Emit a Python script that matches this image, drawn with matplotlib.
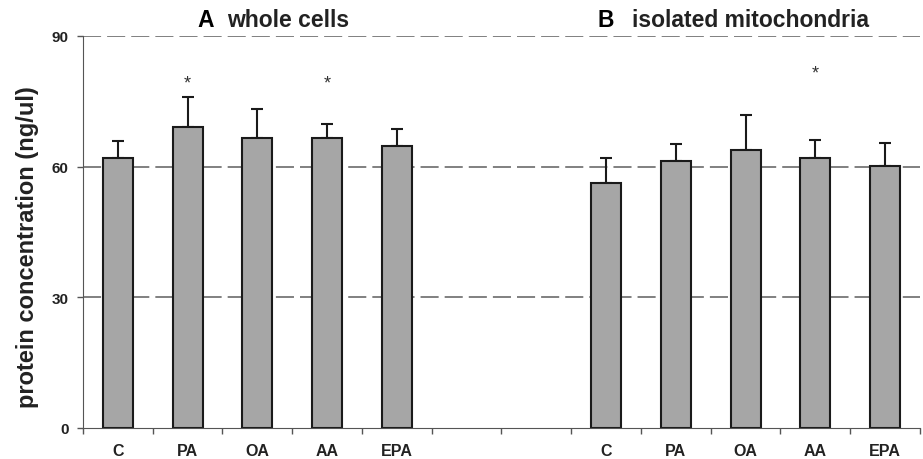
import matplotlib.pyplot as plt
import numpy as np

plt.rcParams['font.family'] = ['Liberation Sans', 'DejaVu Sans']

labels = ["C", "PA", "OA", "AA", "EPA"]
whole_vals = [62.0, 69.1, 66.6, 66.6, 64.8]
whole_err = [4.0, 6.9, 6.7, 3.2, 3.8]
mito_vals = [56.2, 61.2, 63.8, 62.0, 60.2]
mito_err = [5.9, 4.0, 8.0, 4.2, 5.2]
# significance stars: (group, category index, height)
stars = [("A", 1, 79.3), ("A", 3, 79.3), ("B", 3, 81.6)]

gap = 2  # empty category slots between the panels
nslots = 2 * len(labels) + gap
posA = np.arange(len(labels)) + 0.5
posB = np.arange(len(labels)) + len(labels) + gap + 0.5

fig = plt.figure(figsize=(9.23, 4.6), dpi=100)
ax = fig.add_axes([0.0899, 0.0674, 0.9068, 0.8522])

for y in [30, 60, 90]:
    ax.axhline(y, color="#808080", lw=1.4, ls=(0, (9.3, 3.1)), zorder=0)

bar_kw = dict(width=0.43, color="#a6a6a6", edgecolor="#1a1a1a", linewidth=1.5, zorder=2)
ax.bar(posA, whole_vals, **bar_kw)
ax.bar(posB, mito_vals, **bar_kw)
err_kw = dict(fmt="none", ecolor="#1a1a1a", elinewidth=1.5, capsize=4.5, capthick=1.5, zorder=1)
ax.errorbar(posA, whole_vals, yerr=[np.zeros(5), whole_err], **err_kw)
ax.errorbar(posB, mito_vals, yerr=[np.zeros(5), mito_err], **err_kw)

for grp, i, h in stars:
    x = posA[i] if grp == "A" else posB[i]
    ax.text(x, h, "*", ha="center", va="center", fontsize=13, color="#333333")

ax.set_xlim(0, nslots)
ax.set_ylim(0, 90)
ax.set_yticks([0, 30, 60, 90])
ax.set_yticklabels(["0", "30", "60", "90"], fontweight="bold", fontsize=11, color="#222222")
ax.set_xticks(np.concatenate([posA, posB]))
ax.set_xticklabels(labels + labels, fontweight="bold", fontsize=11.5, color="#222222")
ax.tick_params(axis="x", length=0, pad=11)
ax.set_xticks(np.arange(0, nslots + 1), minor=True)
ax.tick_params(axis="x", which="minor", length=4, width=1, color="#555555")
ax.tick_params(axis="y", length=4.3, width=1, color="#555555", pad=6)

for s in ["top", "right"]:
    ax.spines[s].set_visible(False)
ax.spines["left"].set_color("#555555")
ax.spines["bottom"].set_color("#555555")

ax.set_ylabel("protein concentration (ng/ul)", fontweight="bold", fontsize=17, color="#222222")
ax.yaxis.set_label_coords(-0.052, 0.464)

ty = 93.7
ax.text(1.634, ty, "A", ha="left", va="center", fontweight="bold", fontsize=16.5, clip_on=False)
ax.text(2.065, ty, "whole cells", ha="left", va="center", fontweight="bold", fontsize=16.5, color="#222222")
ax.text(7.38, ty, "B", ha="left", va="center", fontweight="bold", fontsize=16.5)
ax.text(7.87, ty, "isolated mitochondria", ha="left", va="center", fontweight="bold", fontsize=16.5, color="#222222")

fig.savefig("out.png", dpi=100)
